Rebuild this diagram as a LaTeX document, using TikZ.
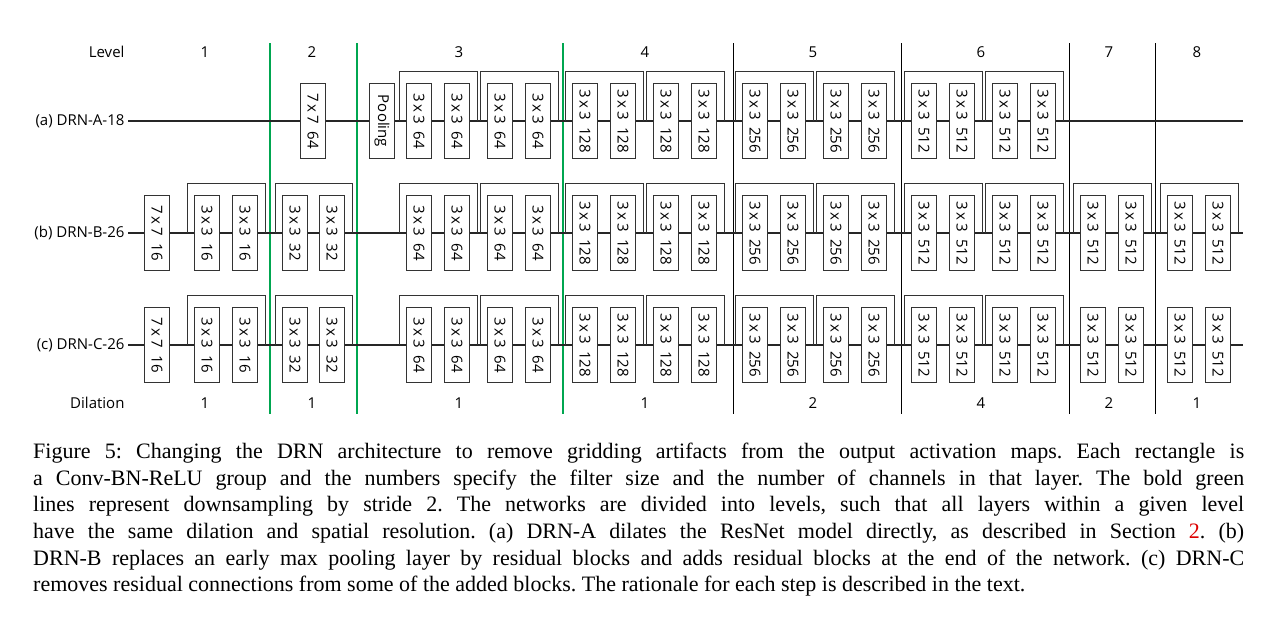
\documentclass[tikz,border=0pt]{standalone}
\usepackage{fontspec}
\setmainfont{Liberation Serif}
\newfontfamily\dsans{Open Sans}
\definecolor{grn}{RGB}{0,166,80}
\definecolor{lnk}{RGB}{220,0,0}
\begin{document}
\begin{tikzpicture}[x=1pt,y=-1pt,
  blk/.style={draw=black!80,line width=0.8pt,fill=white,minimum width=25pt,minimum height=75pt,inner sep=0pt,font=\dsans\fontsize{15}{16}\selectfont},
  lab/.style={font=\dsans\fontsize{15}{17}\selectfont},
  res/.style={draw=black!80,line width=0.8pt},
  main/.style={draw=black!85,line width=1.1pt},
  sep/.style={draw=black,line width=0.6pt},
  gsep/.style={draw=grn,line width=2.2pt}]
\useasboundingbox (0,0) rectangle (1269,633);
% separators
\foreach \x in {270,357,563} \draw[gsep] (\x,43) -- (\x,414);
\foreach \x in {733,901,1069,1155} \draw[sep] (\x,43) -- (\x,414);
% headers
\node[lab,anchor=east] (lvl) at (128,52) {Level};
\node[lab,anchor=east] (dil) at (128,403) {Dilation};
\foreach \x/\l [count=\i] in {205/1,312/2,459/3,645/4,813/5,981/6,1109/7,1197/8}
  \node[lab] (lv\i) at (\x,52) {\l};
\foreach \x/\l [count=\i] in {205/1,312/1,459/1,645/1,813/2,981/4,1109/2,1197/1}
  \node[lab] (dl\i) at (\x,403) {\l};
% row labels and lines
\node[lab,anchor=east] (la) at (128,121) {(a) DRN-A-18};
\node[lab,anchor=east] (lb) at (128,233) {(b) DRN-B-26};
\node[lab,anchor=east] (lc) at (128,345) {(c) DRN-C-26};
\coordinate (ea) at (1243,121);
\coordinate (eb) at (1243,233);
\coordinate (ec) at (1243,345);
\draw[main] (la.east) -- (ea);
\draw[main] (lb.east) -- (eb);
\draw[main] (lc.east) -- (ec);
\newcommand\mytxt[2]{\rotatebox{-90}{#1\kern3pt x\kern3pt #1\kern7pt #2}}
% pair macro
\newcommand\mypair[6]{% name, x1, x2, y, text, bracket(1/0)
  \node[blk] (#1p) at (#2,#4) {#5};
  \node[blk] (#1q) at (#3,#4) {#5};
  \ifnum#6=1
  \draw[res] ([xshift=-7pt]#1p.west) |- ([xshift=7pt,yshift=12pt]#1q.north east) -- ([xshift=7pt]#1q.east);
  \fi}
% row a
\node[blk] (a0) at (313,121) {\mytxt{7}{64}};
\node[blk] (apool) at (382,121) {\rotatebox{-90}{Pooling}};
\foreach \r/\y in {a/121,b/233,c/345}{
  \mypair{\r31}{419}{457}{\y}{\mytxt{3}{64}}{1}
  \mypair{\r32}{500}{538}{\y}{\mytxt{3}{64}}{1}
  \mypair{\r41}{585}{623}{\y}{\mytxt{3}{128}}{1}
  \mypair{\r42}{666}{704}{\y}{\mytxt{3}{128}}{1}
  \mypair{\r51}{755}{793}{\y}{\mytxt{3}{256}}{1}
  \mypair{\r52}{836}{874}{\y}{\mytxt{3}{256}}{1}
  \mypair{\r61}{924}{962}{\y}{\mytxt{3}{512}}{1}
  \mypair{\r62}{1005}{1043}{\y}{\mytxt{3}{512}}{1}
}
\foreach \r/\y/\k in {b/233/1,c/345/0}{
  \node[blk] (\r0) at (157,\y) {\mytxt{7}{16}};
  \mypair{\r1}{207}{245}{\y}{\mytxt{3}{16}}{1}
  \mypair{\r2}{295}{332}{\y}{\mytxt{3}{32}}{1}
  \mypair{\r7}{1093}{1131}{\y}{\mytxt{3}{512}}{\k}
  \mypair{\r8}{1180}{1218}{\y}{\mytxt{3}{512}}{\k}
}
% caption
\node[anchor=north west,text width=1211pt,align=justify,inner sep=0pt,
  font=\fontsize{22}{26.6}\selectfont\frenchspacing] (cap) at (33,443) {Figure 5: Changing the DRN architecture to remove gridding artifacts from the output activation maps. Each rectangle is\linebreak a Conv-BN-ReLU group and the numbers specify the filter size and the number of channels in that layer. The bold green\linebreak lines represent downsampling by stride 2. The networks are divided into levels, such that all layers within a given level\linebreak have the same dilation and spatial resolution. (a) DRN-A dilates the ResNet model directly, as described in Section \textcolor{lnk}{2}. (b)\linebreak DRN-B replaces an early max pooling layer by residual blocks and adds residual blocks at the end of the network. (c) DRN-C\linebreak removes residual connections from some of the added blocks. The rationale for each step is described in the text.\par};
\end{tikzpicture}
\end{document}
